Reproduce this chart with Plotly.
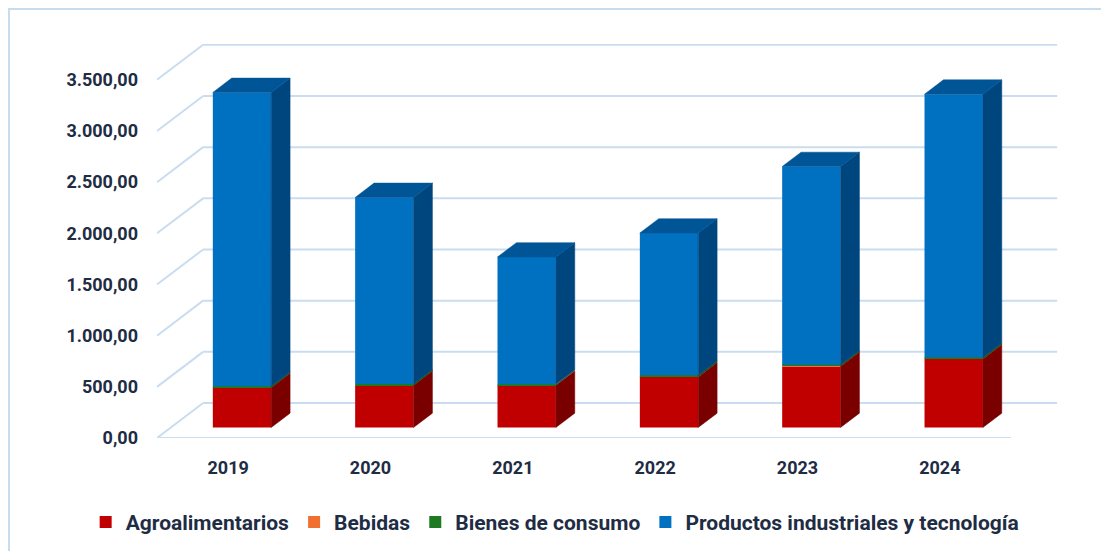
import plotly.graph_objects as go

# ---------------- data ----------------
years = ["2019", "2020", "2021", "2022", "2023", "2024"]
agro = [390, 412, 412, 494, 598, 670]
bebidas = [2, 2, 2, 3, 3, 3]
bienes = [10, 10, 9, 14, 12, 12]
productos = [2872, 1824, 1243, 1389, 1937, 2572]
series_names = ["Agroalimentarios", "Bebidas", "Bienes de consumo",
                "Productos industriales y tecnología"]
y_ticks = [0, 500, 1000, 1500, 2000, 2500, 3000, 3500]

# ---------------- styling ----------------
front_cols = ["#C00000", "#F07030", "#1E7A22", "#0070C0"]
side_cols = ["#7A0000", "#A04818", "#124E15", "#00467E"]
top_col = "#005597"
grid_col = "#CADDF0"
text_col = "#1E2C44"
FONT = "Roboto, sans-serif"

DX, DY = 0.324, 342          # full floor depth (x units, value units)
FRONT, BACK = 0.30, 0.71     # bar depth position as fraction of floor depth
BAR_W = 0.41

# page body has an 8px margin: figure is sized so the plot area lands where the reference has it
W, H = 1101, 543
ML, MR, MT, MB = 149, 49, 36, 113
PW, PH = W - ML - MR, H - MT - MB

n = len(years)
xs = list(range(n))
series = [agro, bebidas, bienes, productos]

fig = go.Figure()

# walls / grid
for v in y_ticks:
    fig.add_shape(type="line", xref="x", yref="y", layer="below",
                  x0=-0.5, y0=v, x1=-0.5 + DX, y1=v + DY,
                  line=dict(color=grid_col, width=2))
    fig.add_shape(type="line", xref="x", yref="y", layer="below",
                  x0=-0.5 + DX, y0=v + DY, x1=n - 0.5 + DX, y1=v + DY,
                  line=dict(color=grid_col, width=2))
fig.add_shape(type="line", xref="x", yref="y", layer="below",
              x0=-0.5, y0=0, x1=n - 0.5, y1=0,
              line=dict(color=grid_col, width=2))

ddx = (BACK - FRONT) * DX
ddy = (BACK - FRONT) * DY
fx = [x + FRONT * DX for x in xs]

cum = [0] * n
side_traces = []
for k, vals in enumerate(series):
    bases = [c + FRONT * DY for c in cum]
    fig.add_trace(go.Bar(
        x=fx, y=vals, base=bases, width=BAR_W, name=series_names[k],
        marker=dict(color=front_cols[k], line=dict(width=0)),
        hoverinfo="skip", showlegend=True))
    px, py = [], []
    for i in range(n):
        xr = fx[i] + BAR_W / 2
        b = bases[i]
        t = bases[i] + vals[i]
        px += [xr, xr + ddx, xr + ddx, xr, xr, None]
        py += [b, b + ddy, t + ddy, t, b, None]
    side_traces.append(go.Scatter(
        x=px, y=py, mode="lines", fill="toself", fillcolor=side_cols[k],
        line=dict(color=side_cols[k], width=0.5), hoverinfo="skip",
        showlegend=False))
    cum = [c + v for c, v in zip(cum, vals)]

for tr in side_traces:
    fig.add_trace(tr)

# top faces
tx, ty = [], []
for i in range(n):
    xl = fx[i] - BAR_W / 2
    xr = fx[i] + BAR_W / 2
    T = cum[i] + FRONT * DY
    tx += [xl, xr, xr + ddx, xl + ddx, xl, None]
    ty += [T, T, T + ddy, T + ddy, T, None]
fig.add_trace(go.Scatter(x=tx, y=ty, mode="lines", fill="toself",
                         fillcolor=top_col, line=dict(color=top_col, width=0.5),
                         hoverinfo="skip", showlegend=False))

# outer frame (top and left edges visible)
fig.add_shape(type="rect", xref="paper", yref="paper", layer="below",
              x0=(1 - ML) / PW, y0=-0.5, x1=1.3, y1=(PH + MT - 1) / PH,
              line=dict(color="#C8DCEF", width=2))

fig.update_layout(
    width=W, height=H, autosize=False,
    margin=dict(l=ML, r=MR, t=MT, b=MB, pad=0, autoexpand=False),
    paper_bgcolor="white", plot_bgcolor="rgba(0,0,0,0)",
    barmode="overlay", separators=",.",
    font=dict(family=FONT, size=18, color=text_col, weight="bold"),
    xaxis=dict(range=[-0.5, n - 0.5 + DX + 0.02], tickvals=xs, ticktext=years,
               showgrid=False, zeroline=False, showline=False, ticks="",
               ticklabelstandoff=17, fixedrange=True, automargin=False),
    yaxis=dict(range=[0, 3850], tickvals=y_ticks, tickformat=",.2f",
               showgrid=False, zeroline=False, showline=False, ticks="",
               ticklabelstandoff=18, fixedrange=True, automargin=False),
    legend=dict(orientation="h", x=-0.079, xanchor="left", y=-0.214,
                yanchor="middle", font=dict(size=21),
                itemclick=False, itemdoubleclick=False),
)

fig.write_html("out.html")
